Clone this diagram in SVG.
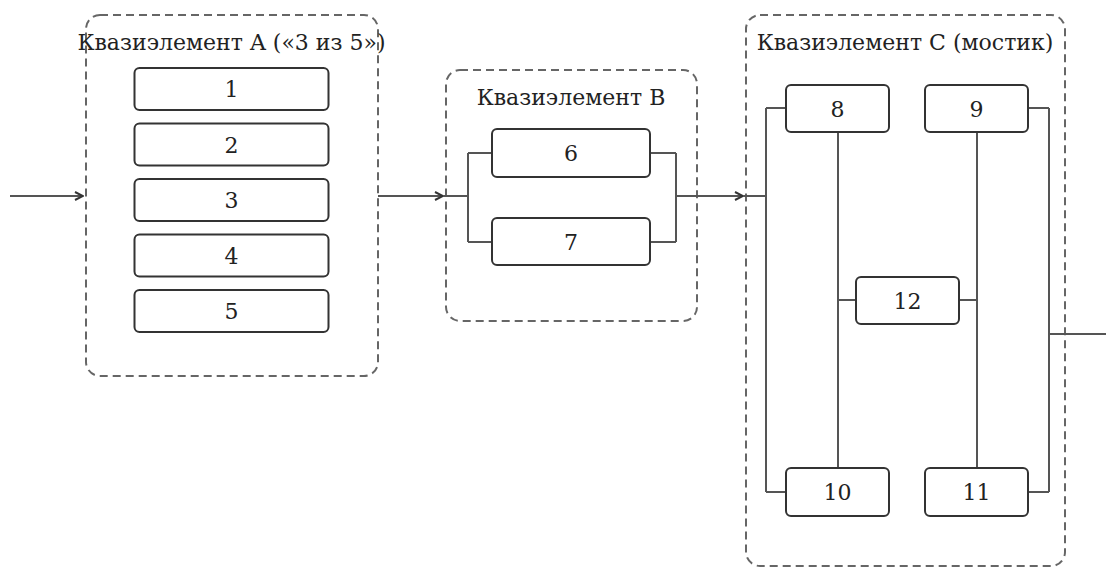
<svg xmlns="http://www.w3.org/2000/svg" width="1106" height="567" viewBox="0 0 1106 567">
<style>
.cl{fill:none;stroke:#666;stroke-width:2;stroke-dasharray:8 5}
.nd{fill:#fff;stroke:#333;stroke-width:2}
.t{font-family:"DejaVu Serif",serif;font-size:22px;fill:#222;text-anchor:middle}
.e{fill:none;stroke:#555;stroke-width:2}
</style>
<defs>
<marker id="ar" viewBox="0 0 10 10" refX="9" refY="5" markerWidth="10" markerHeight="10" markerUnits="userSpaceOnUse" orient="auto">
<path d="M1,1 L9,5 L1,9" fill="none" stroke="#333" stroke-width="2"/>
</marker>
</defs>
<g id="clusterA"><rect class="cl" x="86" y="15" width="292" height="361" rx="14"/><text class="t" x="231.5" y="50">Квазиэлемент A («3 из 5»)</text></g>
<g id="clusterB"><rect class="cl" x="446" y="70" width="251" height="251" rx="14"/><text class="t" x="571" y="105">Квазиэлемент B</text></g>
<g id="clusterC"><rect class="cl" x="746" y="15" width="319" height="551" rx="14"/><text class="t" x="905" y="50">Квазиэлемент C (мостик)</text></g>
<g id="connectors">
<path class="e" d="M10,196 H83" marker-end="url(#ar)"/>
<path class="e" d="M378,196 H443" marker-end="url(#ar)"/>
<path class="e" d="M443,196 H468 M468,153 V242 M468,153 H492 M468,242 H492 M650,153 H676 M650,242 H676 M676,153 V242 M676,196 H743" marker-end="url(#ar)"/>
<path class="e" d="M743,196 H766 M766,108 V492 M766,108 H786 M766,492 H786"/>
<path class="e" d="M838,132 V468 M977,132 V468 M838,300 H856 M959,300 H977"/>
<path class="e" d="M1028,108 H1049 M1028,492 H1049 M1049,108 V492 M1049,334 H1106"/>
</g>
<g id="n1"><rect class="nd" x="134.5" y="68" width="194" height="42" rx="5"/><text class="t" x="231.5" y="97">1</text></g>
<g id="n2"><rect class="nd" x="134.5" y="123.5" width="194" height="42" rx="5"/><text class="t" x="231.5" y="152.5">2</text></g>
<g id="n3"><rect class="nd" x="134.5" y="179" width="194" height="42" rx="5"/><text class="t" x="231.5" y="208">3</text></g>
<g id="n4"><rect class="nd" x="134.5" y="234.5" width="194" height="42" rx="5"/><text class="t" x="231.5" y="263.5">4</text></g>
<g id="n5"><rect class="nd" x="134.5" y="290" width="194" height="42" rx="5"/><text class="t" x="231.5" y="319">5</text></g>
<g id="n6"><rect class="nd" x="492" y="129" width="158" height="48" rx="5"/><text class="t" x="571" y="161">6</text></g>
<g id="n7"><rect class="nd" x="492" y="218" width="158" height="47" rx="5"/><text class="t" x="571" y="249.5">7</text></g>
<g id="n8"><rect class="nd" x="786" y="85" width="103" height="47" rx="5"/><text class="t" x="837.5" y="116.5">8</text></g>
<g id="n9"><rect class="nd" x="925" y="85" width="103" height="47" rx="5"/><text class="t" x="976.5" y="116.5">9</text></g>
<g id="n10"><rect class="nd" x="786" y="468" width="103" height="48" rx="5"/><text class="t" x="837.5" y="500">10</text></g>
<g id="n11"><rect class="nd" x="925" y="468" width="103" height="48" rx="5"/><text class="t" x="976.5" y="500">11</text></g>
<g id="n12"><rect class="nd" x="856" y="277" width="103" height="47" rx="5"/><text class="t" x="907.5" y="308.5">12</text></g>
</svg>
